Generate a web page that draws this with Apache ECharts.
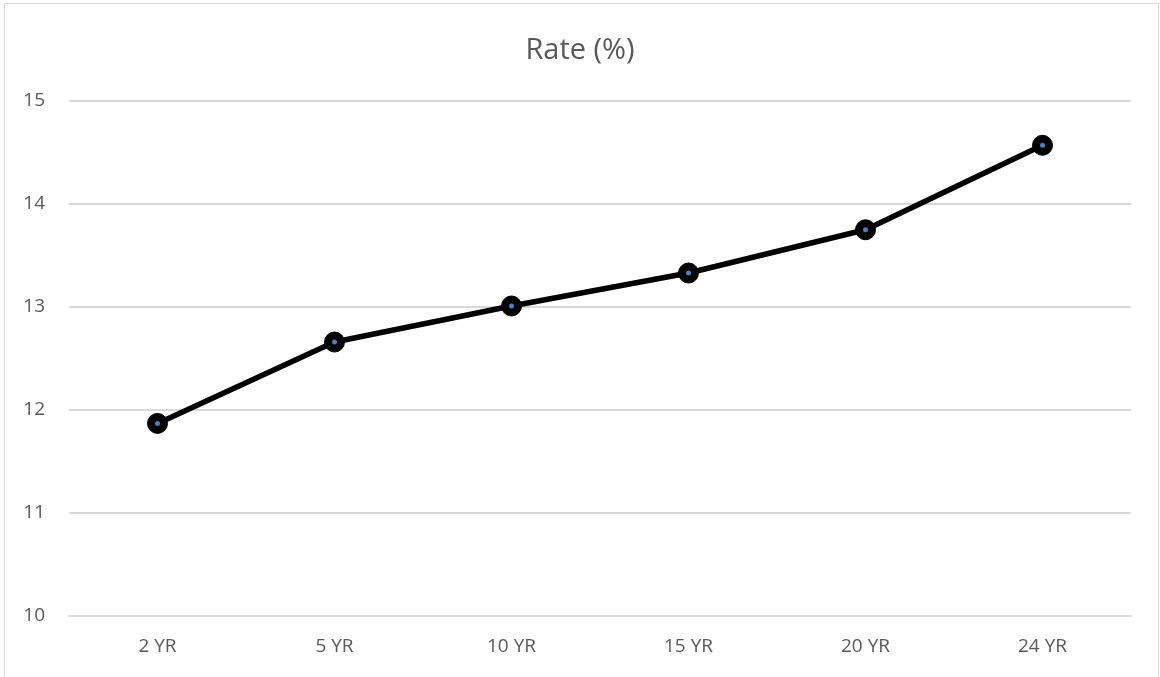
<!DOCTYPE html>
<html><head><meta charset="utf-8">
<script src="https://cdn.jsdelivr.net/npm/echarts@6/dist/echarts.min.js"></script>
<style>html,body{margin:0;padding:0;background:#fff}#c{width:1160px;height:677px}</style>
</head><body><div id="c"></div>
<script>
const categories = ['2 YR','5 YR','10 YR','15 YR','20 YR','24 YR'];
const rates = [11.87, 12.66, 13.01, 13.33, 13.75, 14.57];
const yTicks = [10, 11, 12, 13, 14, 15];
const chart = echarts.init(document.getElementById('c'));
const font = '"Open Sans", "Noto Sans", sans-serif';
chart.setOption({
  animation: false,
  backgroundColor: '#fff',
  title: { text: 'Rate (%)', left: 'center', top: 31, textStyle: { fontFamily: font, fontSize: 29, fontWeight: 'normal', color: '#595959' } },
  graphic: [{ type: 'rect', shape: { x: 4.5, y: 3.5, width: 1154, height: 690 }, style: { fill: 'none', stroke: '#d9d9d9', lineWidth: 1 }, silent: true }],
  grid: { left: 69, right: 29, top: 101, bottom: 61 },
  xAxis: { type: 'category', data: categories, boundaryGap: true,
    axisLine: { show: true, lineStyle: { color: '#d9d9d9', width: 2 } }, axisTick: { show: false },
    axisLabel: { fontFamily: font, fontSize: 19, color: '#595959', margin: 21 } },
  yAxis: { type: 'value', min: yTicks[0], max: yTicks[yTicks.length-1], interval: 1,
    axisLine: { show: false }, axisTick: { show: false },
    splitLine: { lineStyle: { color: '#d9d9d9', width: 2 } },
    axisLabel: { fontFamily: font, fontSize: 19, color: '#595959', margin: 24 } },
  series: [
    { type: 'line', data: rates, symbol: 'circle', symbolSize: 20, z: 2,
      lineStyle: { color: '#000', width: 5.5 }, itemStyle: { color: '#000', borderColor: '#000', borderWidth: 1 } },
    { type: 'line', data: rates, symbol: 'circle', symbolSize: 5, z: 3,
      lineStyle: { width: 0, opacity: 0 }, itemStyle: { color: '#4a7fc1' } }
  ]
});
</script></body></html>
